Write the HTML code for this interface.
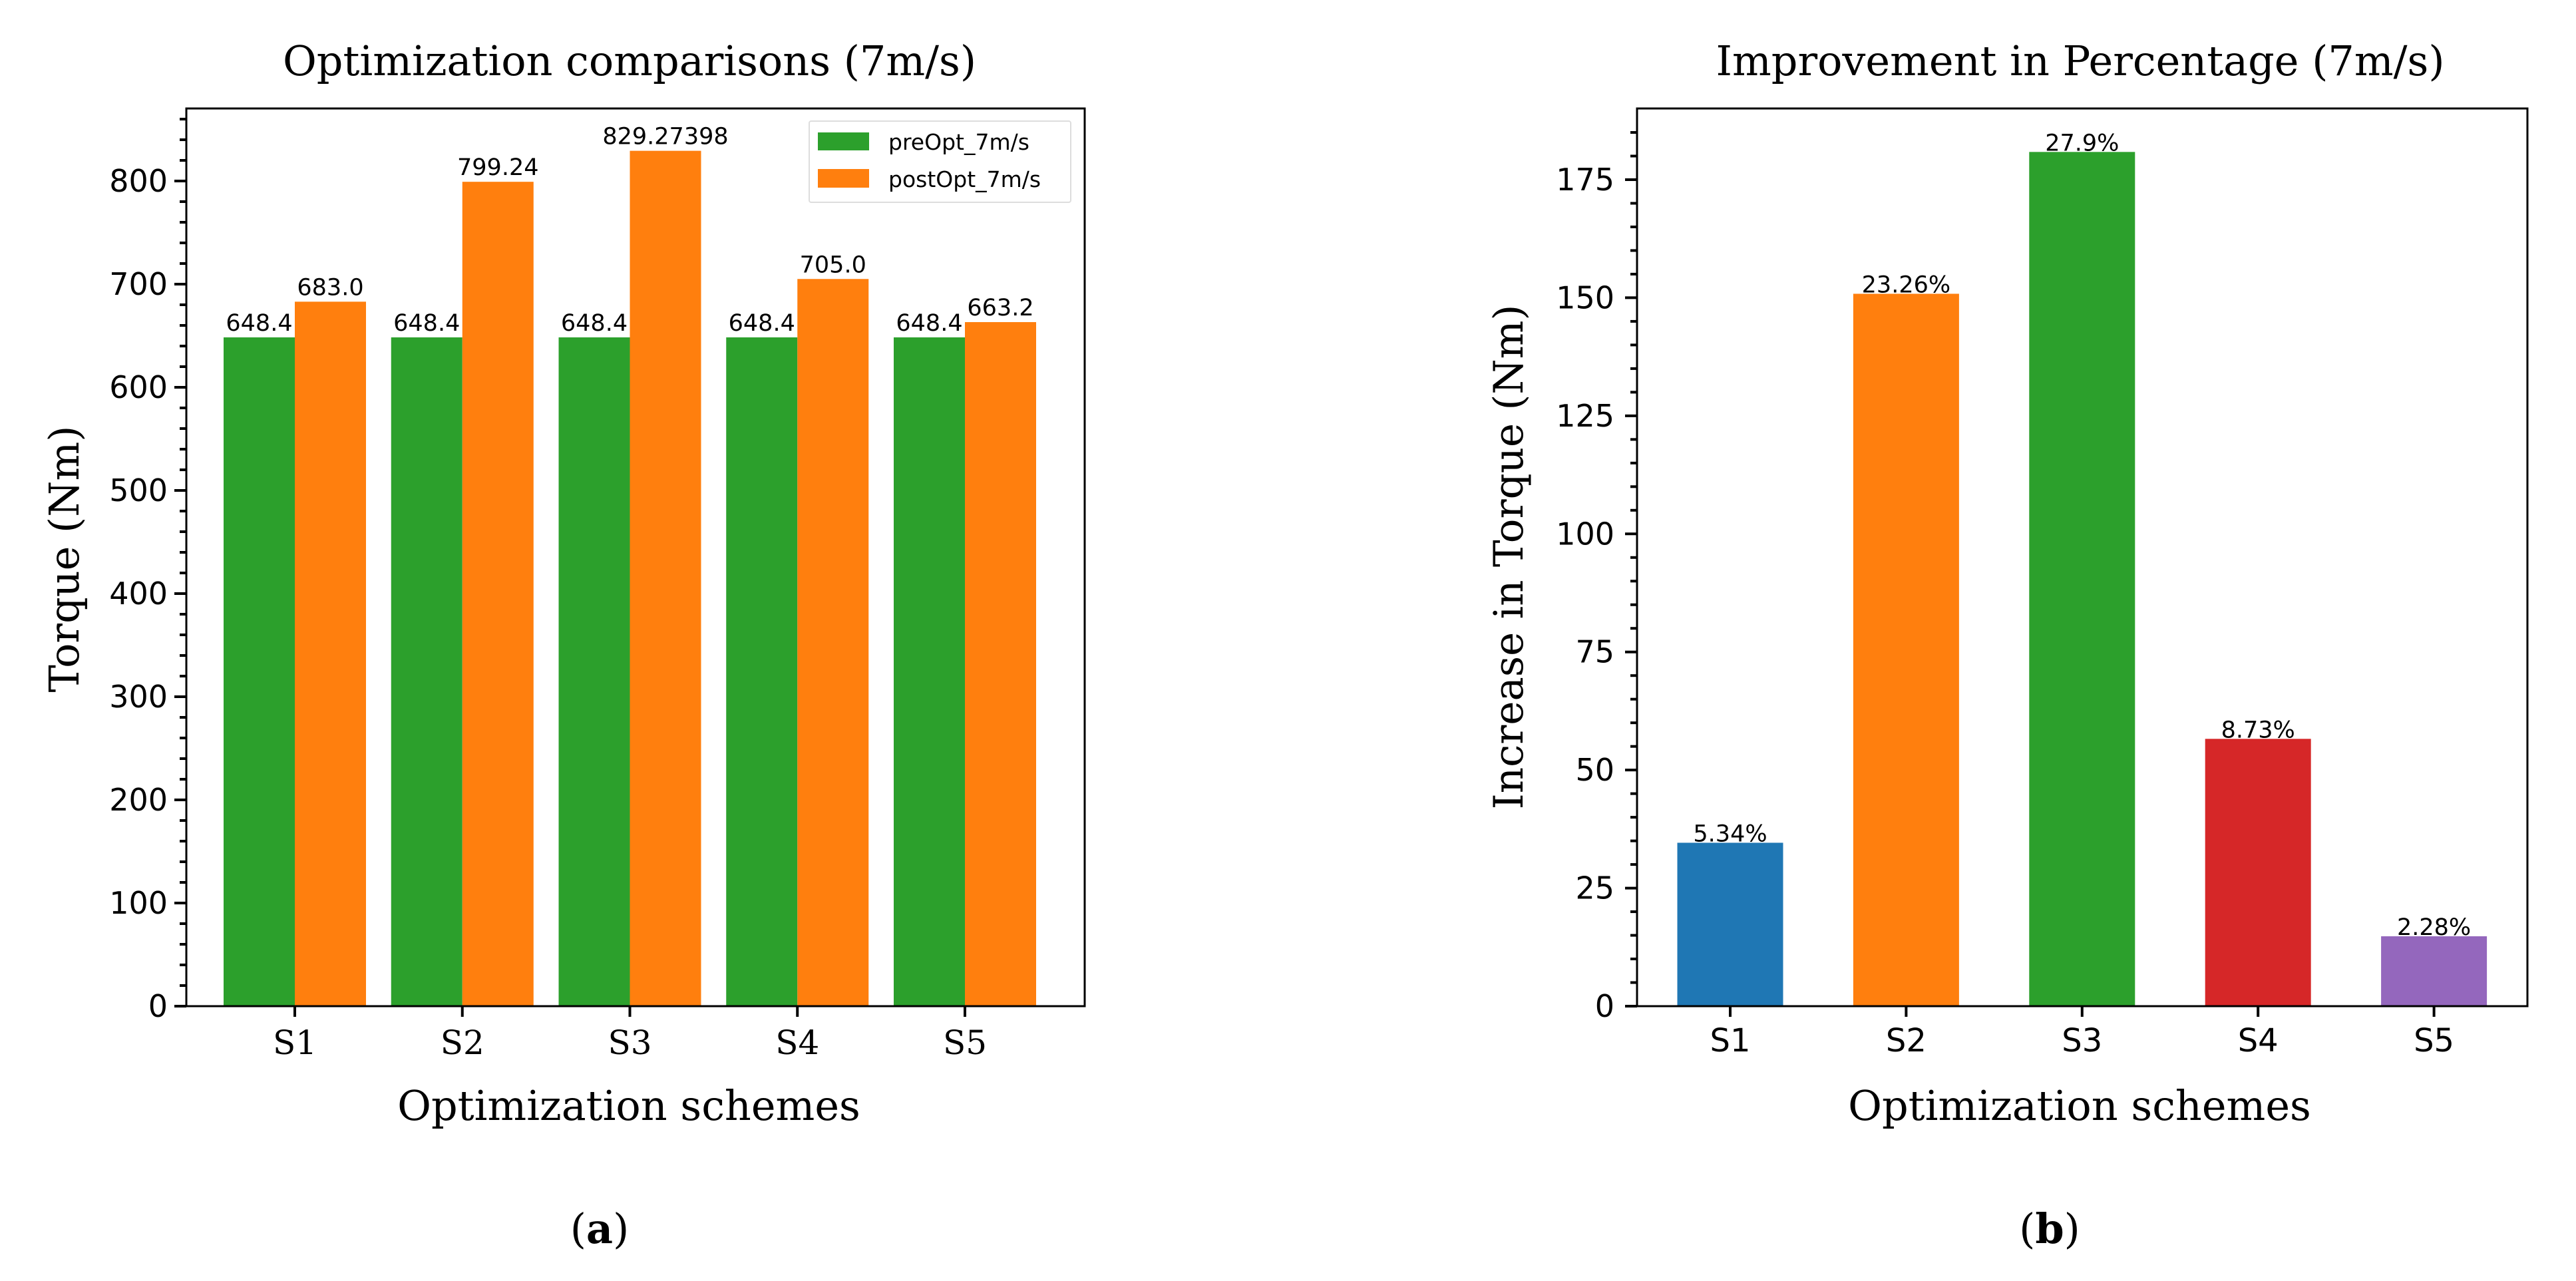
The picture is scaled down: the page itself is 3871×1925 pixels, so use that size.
<!DOCTYPE html>
<html><head><meta charset="utf-8">
<style>
html,body{margin:0;padding:0;background:#fff;}
svg{display:block;}
.serif{font-family:"DejaVu Serif","Liberation Serif",serif;}
.sans{font-family:"DejaVu Sans","Liberation Sans",sans-serif;}
</style></head>
<body>
<svg id="fig" width="3871" height="1925" viewBox="0 0 3871 1925" xmlns="http://www.w3.org/2000/svg">
<g id="chartA"></g>
<g id="chartB"></g>
</svg>
<script>
const categories = ["S1","S2","S3","S4","S5"];
const preOpt = [648.4,648.4,648.4,648.4,648.4];
const postOpt = [683.0,799.24,829.27398,705.0,663.2];
const preLabels = ["648.4","648.4","648.4","648.4","648.4"];
const postLabels = ["683.0","799.24","829.27398","705.0","663.2"];
const ticksA = [0,100,200,300,400,500,600,700,800];
const increase = [34.6,150.84,180.87,56.6,14.8];
const pctLabels = ["5.34%","23.26%","27.9%","8.73%","2.28%"];
const ticksB = [0,25,50,75,100,125,150,175];
const colorsB = ["#1f77b4","#ff7f0e","#2ca02c","#d62728","#9467bd"];

const NS="http://www.w3.org/2000/svg";
function mk(parent,tag,attrs,text){const e=document.createElementNS(NS,tag);for(const k in attrs)e.setAttribute(k,attrs[k]);if(text!==undefined)e.textContent=text;parent.appendChild(e);return e;}

// Chart A
(function(){
  const g=document.getElementById('chartA');
  const L=280,R=1630,T=163,B=1512;
  const y=v=>B-v*1.55;
  const x=i=>443+i*251.75;
  const bw=107;
  let t=mk(g,'text',{x:946,y:113,'font-size':62,'text-anchor':'middle',class:'serif'},'Optimization comparisons (7m/s)');
  
  
  categories.forEach((c,i)=>{
    let r=mk(g,'rect',{x:x(i)-bw,y:y(preOpt[i]),width:bw,height:B-y(preOpt[i]),fill:'#2ca02c'});
    
    
    r=mk(g,'rect',{x:x(i),y:y(postOpt[i]),width:bw,height:B-y(postOpt[i]),fill:'#ff7f0e'});
    
    
    let l=mk(g,'text',{x:x(i)-bw/2,y:y(preOpt[i])-10,'font-size':35,'text-anchor':'middle',class:'sans'},preLabels[i]);
    
    
    l=mk(g,'text',{x:x(i)+bw/2,y:y(postOpt[i])-10,'font-size':35,'text-anchor':'middle',class:'sans'},postLabels[i]);
    
    
    mk(g,'line',{x1:x(i),x2:x(i),y1:B,y2:B+16,stroke:'#000','stroke-width':4});
    let tl=mk(g,'text',{x:x(i),y:B+72,'font-size':50,'text-anchor':'middle',class:'serif'},c);
    
    
  });
  for(let v=0;v<=860;v+=20){
    const major=v%100===0;
    mk(g,'line',{x1:L-(major?18:10),x2:L,y1:y(v),y2:y(v),stroke:'#000','stroke-width':4});
  }
  ticksA.forEach(v=>{
    let tl=mk(g,'text',{x:252,y:y(v)+16,'font-size':46,'text-anchor':'end',class:'sans'},String(v));
    
    
  });
  mk(g,'rect',{x:L,y:T,width:R-L,height:B-T,fill:'none',stroke:'#000','stroke-width':3});
  let lg=mk(g,'g',{});
  
  
  mk(lg,'rect',{x:1216,y:182,width:393,height:122,fill:'#fff',stroke:'#ddd','stroke-width':2,rx:3});
  mk(lg,'rect',{x:1229,y:199,width:77,height:27,fill:'#2ca02c'});
  mk(lg,'rect',{x:1229,y:254,width:77,height:28,fill:'#ff7f0e'});
  mk(lg,'text',{x:1335,y:225,'font-size':33,class:'sans'},'preOpt_7m/s');
  mk(lg,'text',{x:1335,y:281,'font-size':33,class:'sans'},'postOpt_7m/s');
  let yl=mk(g,'text',{x:0,y:0,'font-size':62,'text-anchor':'middle',class:'serif',transform:'translate(118,840) rotate(-90)'},'Torque (Nm)');
  
  
  let xl=mk(g,'text',{x:945,y:1683,'font-size':62,'text-anchor':'middle',class:'serif'},'Optimization schemes');
  
  
  let cap=mk(g,'text',{x:901,y:1868,'font-size':62,'text-anchor':'middle',class:'serif'},'(');
  mk(cap,'tspan',{'font-weight':'bold'},'a');
  mk(cap,'tspan',{},')');
  
  
})();

// Chart B
(function(){
  const g=document.getElementById('chartB');
  const L=2460,R=3798,T=163,B=1512;
  const y=v=>B-v*(1242/175);
  const x=i=>2600+i*264.4;
  const bw=159;
  let t=mk(g,'text',{x:3126,y:113,'font-size':62,'text-anchor':'middle',class:'serif'},'Improvement in Percentage (7m/s)');
  
  
  categories.forEach((c,i)=>{
    let r=mk(g,'rect',{x:x(i)-bw/2,y:y(increase[i]),width:bw,height:B-y(increase[i]),fill:colorsB[i]});
    
    
    let l=mk(g,'text',{x:x(i),y:y(increase[i])-2,'font-size':35,'text-anchor':'middle',class:'sans'},pctLabels[i]);
    
    
    mk(g,'line',{x1:x(i),x2:x(i),y1:B,y2:B+16,stroke:'#000','stroke-width':4});
    let tl=mk(g,'text',{x:x(i),y:B+68,'font-size':48,'text-anchor':'middle',class:'sans'},c);
    
    
  });
  for(let v=0;v<=185;v+=5){
    const major=v%25===0;
    mk(g,'line',{x1:L-(major?18:10),x2:L,y1:y(v),y2:y(v),stroke:'#000','stroke-width':4});
  }
  ticksB.forEach(v=>{
    let tl=mk(g,'text',{x:2426,y:y(v)+16,'font-size':46,'text-anchor':'end',class:'sans'},String(v));
    
    
  });
  mk(g,'rect',{x:L,y:T,width:R-L,height:B-T,fill:'none',stroke:'#000','stroke-width':3});
  let yl=mk(g,'text',{x:0,y:0,'font-size':61,'text-anchor':'middle',class:'serif',transform:'translate(2288,837) rotate(-90)'},'Increase in Torque (Nm)');
  
  
  let xl=mk(g,'text',{x:3125,y:1683,'font-size':62,'text-anchor':'middle',class:'serif'},'Optimization schemes');
  
  
  let cap=mk(g,'text',{x:3080,y:1868,'font-size':62,'text-anchor':'middle',class:'serif'},'(');
  mk(cap,'tspan',{'font-weight':'bold'},'b');
  mk(cap,'tspan',{},')');
  
  
})();
</script>
</body></html>
